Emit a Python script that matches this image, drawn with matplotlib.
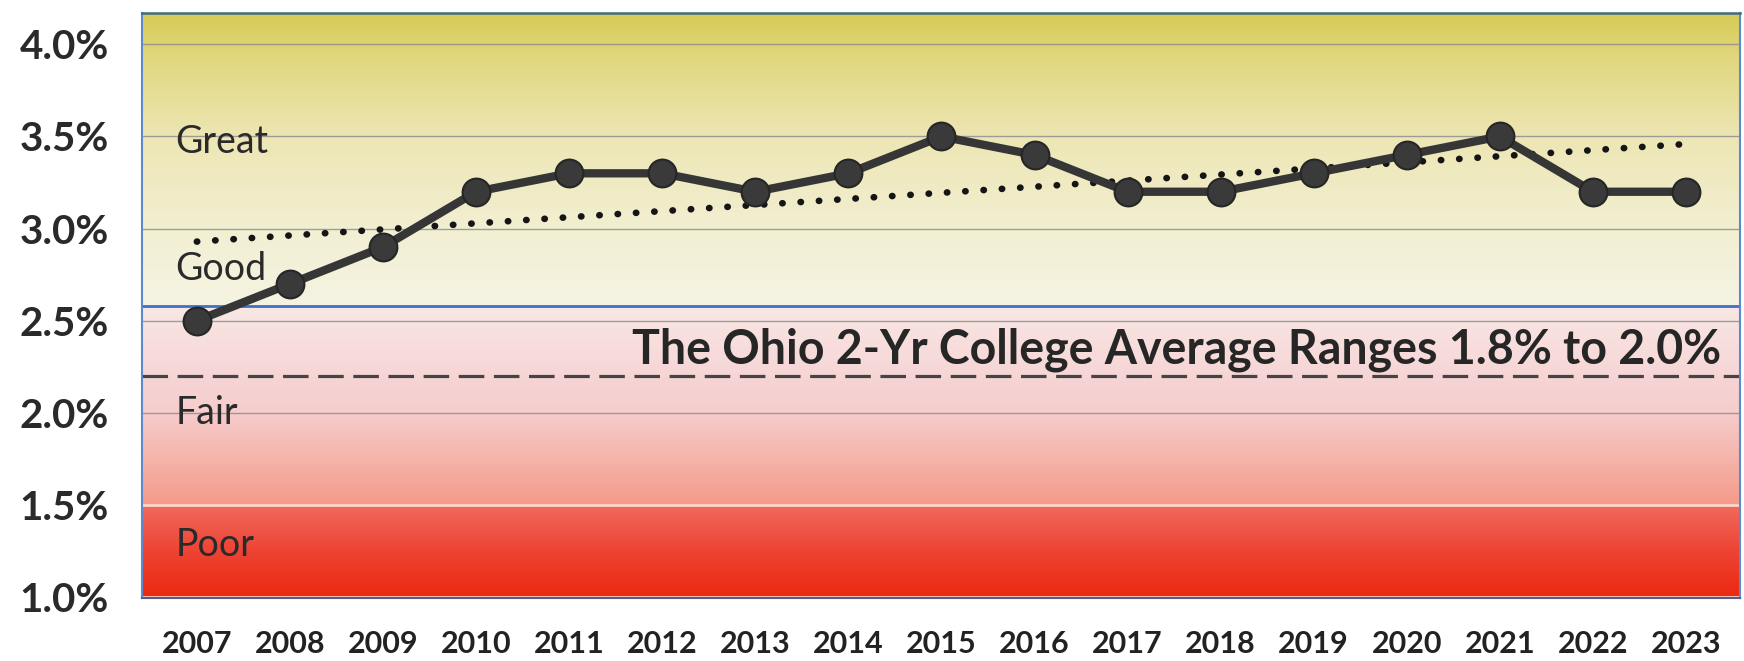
import numpy as np
import matplotlib
matplotlib.use("Agg")
import matplotlib.pyplot as plt
from matplotlib.colors import to_rgb

# ---- data ----
years = ["2007", "2008", "2009", "2010", "2011", "2012", "2013", "2014", "2015",
         "2016", "2017", "2018", "2019", "2020", "2021", "2022", "2023"]
rate = [2.5, 2.7, 2.9, 3.2, 3.3, 3.3, 3.2, 3.3, 3.5,
        3.4, 3.2, 3.2, 3.3, 3.4, 3.5, 3.2, 3.2]
ytick_vals = [1.0, 1.5, 2.0, 2.5, 3.0, 3.5, 4.0]
ytick_labels = ["1.0%", "1.5%", "2.0%", "2.5%", "3.0%", "3.5%", "4.0%"]
ohio_avg_line = 2.2
band_boundary = 2.58
zone_labels = ["Great", "Good", "Fair", "Poor"]
zone_label_y = [3.47, 2.78, 2.0, 1.28]
ohio_text = "The Ohio 2-Yr College Average Ranges 1.8% to 2.0%"

FONT = ["Lato", "DejaVu Sans"]
plt.rcParams["font.family"] = FONT

fig = plt.figure(figsize=(17.44, 6.61), dpi=100)
ax = fig.add_axes([0.0814, 0.0953, 0.9163, 0.885])

y0, y1 = 0.995, 4.17
x = np.arange(len(years))
ax.set_xlim(-0.59, 16.58)
ax.set_ylim(y0, y1)

# ---- gradient background ----
stops = [
    (0.995, "#ec2810"),
    (1.25, "#ee4434"),
    (1.499, "#f06a5e"),
    (1.501, "#f49a8a"),
    (1.75, "#f5b4aa"),
    (2.0, "#f6cccc"),
    (2.3, "#f7dada"),
    (2.579, "#f8e8e4"),
    (2.581, "#f5f3e2"),
    (3.0, "#f2efd2"),
    (3.5, "#ede6b4"),
    (3.9, "#e2d882"),
    (4.17, "#d6cb55"),
]
grid_y = np.linspace(y0, y1, 800)
pos = [s[0] for s in stops]
cols = np.array([to_rgb(s[1]) for s in stops])
img = np.stack([np.interp(grid_y, pos, cols[:, c]) for c in range(3)], axis=-1)
img = img[:, None, :]
ax.imshow(img, extent=[-0.59, 16.58, y0, y1], origin="lower", aspect="auto",
          interpolation="bilinear", zorder=0)

# gridlines
for v in ytick_vals:
    if v >= 2.0:
        ax.axhline(v, color="#8a8a8a", lw=1.0, alpha=0.8, zorder=1)
    else:
        ax.axhline(v, color="#fbd8cc", lw=2.0, zorder=1)

ax.axhline(band_boundary, color="#3f6fc6", lw=2.0, zorder=2)
ax.axhline(ohio_avg_line, color="#454545", lw=2.3, dashes=(8, 3), zorder=2)

# trend line (linear fit of the series)
coef = np.polyfit(x, rate, 1)
trend = np.polyval(coef, x)
ax.plot(x, trend, color="#151515", lw=4.8, linestyle=(0, (0.05, 2.7)),
        dash_capstyle="round", zorder=3)

# main series
ax.plot(x, rate, color="#363636", lw=6, marker="o", markersize=20,
        markerfacecolor="#3a3a3a", markeredgecolor="#262626", markeredgewidth=1.5,
        zorder=4)

# zone labels
for lab, yy in zip(zone_labels, zone_label_y):
    ax.text(-0.23, yy, lab, fontsize=27, color="#2a2a2a", va="center",
            ha="left", zorder=5)

ax.text(16.38, 2.345, ohio_text, fontsize=33.5, fontweight="bold", color="#262626",
        ha="right", va="center", zorder=5)

# axes styling
ax.set_xticks(x)
ax.set_xticklabels(years, fontsize=22, fontweight="bold", color="#222222")
ax.set_yticks(ytick_vals)
ax.set_yticklabels(ytick_labels, fontsize=29, fontweight="bold", color="#2a2a2a")
ax.tick_params(axis="both", length=0)
ax.tick_params(axis="x", pad=23)
ax.tick_params(axis="y", pad=24)

for side in ["left", "right", "bottom"]:
    ax.spines[side].set_color("#5a8ad0")
    ax.spines[side].set_linewidth(1.5)
ax.spines["top"].set_color("#3f6a7e")
ax.spines["top"].set_linewidth(1.8)
ax.spines["bottom"].set_color("#5a5a8a")

fig.savefig("out.png", dpi=100, facecolor="white")
